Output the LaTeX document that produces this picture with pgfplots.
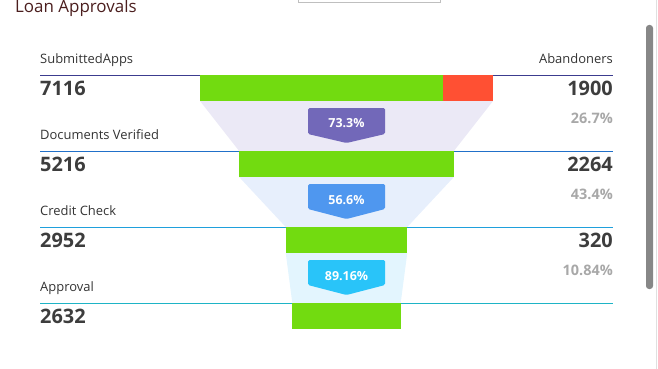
\documentclass[border=0pt]{standalone}
\usepackage{fontspec}
\setmainfont{Open Sans}
\usepackage{pgfplots}
\pgfplotsset{compat=1.18}
\definecolor{barGreen}{HTML}{72DB10}
\definecolor{barRed}{HTML}{FF5033}
\definecolor{trapA}{HTML}{EBE9F6}
\definecolor{trapB}{HTML}{E7EFFC}
\definecolor{trapC}{HTML}{E3F5FE}
\definecolor{badgeA}{HTML}{7268B9}
\definecolor{badgeB}{HTML}{4F97EF}
\definecolor{badgeC}{HTML}{29C4F9}
\definecolor{lineA}{HTML}{3C3C8F}
\definecolor{lineB}{HTML}{2170C9}
\definecolor{lineC}{HTML}{1FA0DC}
\definecolor{lineD}{HTML}{1EB4C6}
\definecolor{titleCol}{HTML}{4B1E1E}
\definecolor{txt}{HTML}{333333}
\definecolor{num}{HTML}{3D3D3D}
\definecolor{pct}{HTML}{A8A8A8}
\newcommand{\lab}{\fontsize{13}{15}\selectfont\color{txt}}
\newcommand{\nm}{\fontsize{20}{24}\selectfont\bfseries\color{num}}
\newcommand{\pc}{\fontsize{14.5}{17}\selectfont\bfseries\color{pct}}
\newcommand{\bd}{\fontsize{12.5}{15}\selectfont\bfseries\color{white}}
\begin{document}
\begin{tikzpicture}
\begin{axis}[scale only axis, width=658bp, height=369bp,
  xmin=-8415.3, xmax=7565.3, ymin=0, ymax=369, y dir=reverse,
  hide axis, clip=false]
% separator lines (x=40px -> -7443.8, x=613px -> 6472.4)
\draw[lineA, line width=1bp] (axis cs:-7443.8,75) -- (axis cs:6472.4,75);
\draw[lineB, line width=1bp] (axis cs:-7443.8,151) -- (axis cs:6472.4,151);
\draw[lineC, line width=1bp] (axis cs:-7443.8,227) -- (axis cs:6472.4,227);
\draw[lineD, line width=1bp] (axis cs:-7443.8,303) -- (axis cs:6472.4,303);
% connectors
\addplot[fill=trapA, draw=none] coordinates {(-3558,101) (3558,101) (2608,151) (-2608,151)};
\addplot[fill=trapB, draw=none] coordinates {(-2608,177) (2608,177) (1476,227) (-1476,227)};
\addplot[fill=trapC, draw=none] coordinates {(-1476,253) (1476,253) (1316,303) (-1316,303)};
% bars
\addplot[fill=barGreen, draw=none] coordinates {(-3558,75) (2343.7,75) (2343.7,101) (-3558,101)};
\addplot[fill=barRed, draw=none] coordinates {(2343.7,75) (3558,75) (3558,101) (2343.7,101)};
\addplot[fill=barGreen, draw=none] coordinates {(-2608,151) (2608,151) (2608,177) (-2608,177)};
\addplot[fill=barGreen, draw=none] coordinates {(-1476,227) (1476,227) (1476,253) (-1476,253)};
\addplot[fill=barGreen, draw=none] coordinates {(-1316,303) (1316,303) (1316,329) (-1316,329)};
% badges
\fill[badgeA, rounded corners=1.5bp] (axis cs:-935,108) -- (axis cs:935,108) -- (axis cs:935,134) -- (axis cs:0,143) -- (axis cs:-935,134) -- cycle;
\fill[badgeB, rounded corners=1.5bp] (axis cs:-935,184) -- (axis cs:935,184) -- (axis cs:935,209) -- (axis cs:0,219) -- (axis cs:-935,209) -- cycle;
\fill[badgeC, rounded corners=1.5bp] (axis cs:-935,260) -- (axis cs:935,260) -- (axis cs:935,285) -- (axis cs:0,295) -- (axis cs:-935,285) -- cycle;
\node[anchor=base, inner sep=0] at (axis cs:0,127.5) {\bd 73.3\%};
\node[anchor=base, inner sep=0] at (axis cs:0,204) {\bd 56.6\%};
\node[anchor=base, inner sep=0] at (axis cs:0,280.5) {\bd 89.16\%};
% title
\node[anchor=base west, inner sep=0] at (axis cs:-8051,13) {\fontsize{17}{20}\selectfont\color{titleCol}Loan Approvals};
% left labels
\node[anchor=base west, inner sep=0] at (axis cs:-7443.8,63) {\lab SubmittedApps};
\node[anchor=base west, inner sep=0] at (axis cs:-7443.8,95) {\nm 7116};
\node[anchor=base west, inner sep=0] at (axis cs:-7443.8,139) {\lab Documents Verified};
\node[anchor=base west, inner sep=0] at (axis cs:-7443.8,171) {\nm 5216};
\node[anchor=base west, inner sep=0] at (axis cs:-7443.8,215) {\lab Credit Check};
\node[anchor=base west, inner sep=0] at (axis cs:-7443.8,247) {\nm 2952};
\node[anchor=base west, inner sep=0] at (axis cs:-7443.8,291) {\lab Approval};
\node[anchor=base west, inner sep=0] at (axis cs:-7443.8,323) {\nm 2632};
% right labels
\node[anchor=base east, inner sep=0] at (axis cs:6472.4,63) {\lab Abandoners};
\node[anchor=base east, inner sep=0] at (axis cs:6472.4,95) {\nm 1900};
\node[anchor=base east, inner sep=0] at (axis cs:6472.4,123) {\pc 26.7\%};
\node[anchor=base east, inner sep=0] at (axis cs:6472.4,171) {\nm 2264};
\node[anchor=base east, inner sep=0] at (axis cs:6472.4,199) {\pc 43.4\%};
\node[anchor=base east, inner sep=0] at (axis cs:6472.4,247) {\nm 320};
\node[anchor=base east, inner sep=0] at (axis cs:6472.4,275) {\pc 10.84\%};
% UI bits: scrollbar, border, top box
\fill[black!47, rounded corners=3bp] (axis cs:7273.8,25) rectangle (axis cs:7443.8,289);
\draw[black!12, line width=1bp] (axis cs:7516.7,0) -- (axis cs:7516.7,369);
\draw[black!25, line width=0.8bp] (axis cs:-1177.9,0) -- (axis cs:-1177.9,2.5) -- (axis cs:2270.8,2.5) -- (axis cs:2270.8,0);
\end{axis}
\pgfresetboundingbox
\useasboundingbox (0,0) rectangle (658bp,369bp);
\end{tikzpicture}
\end{document}
